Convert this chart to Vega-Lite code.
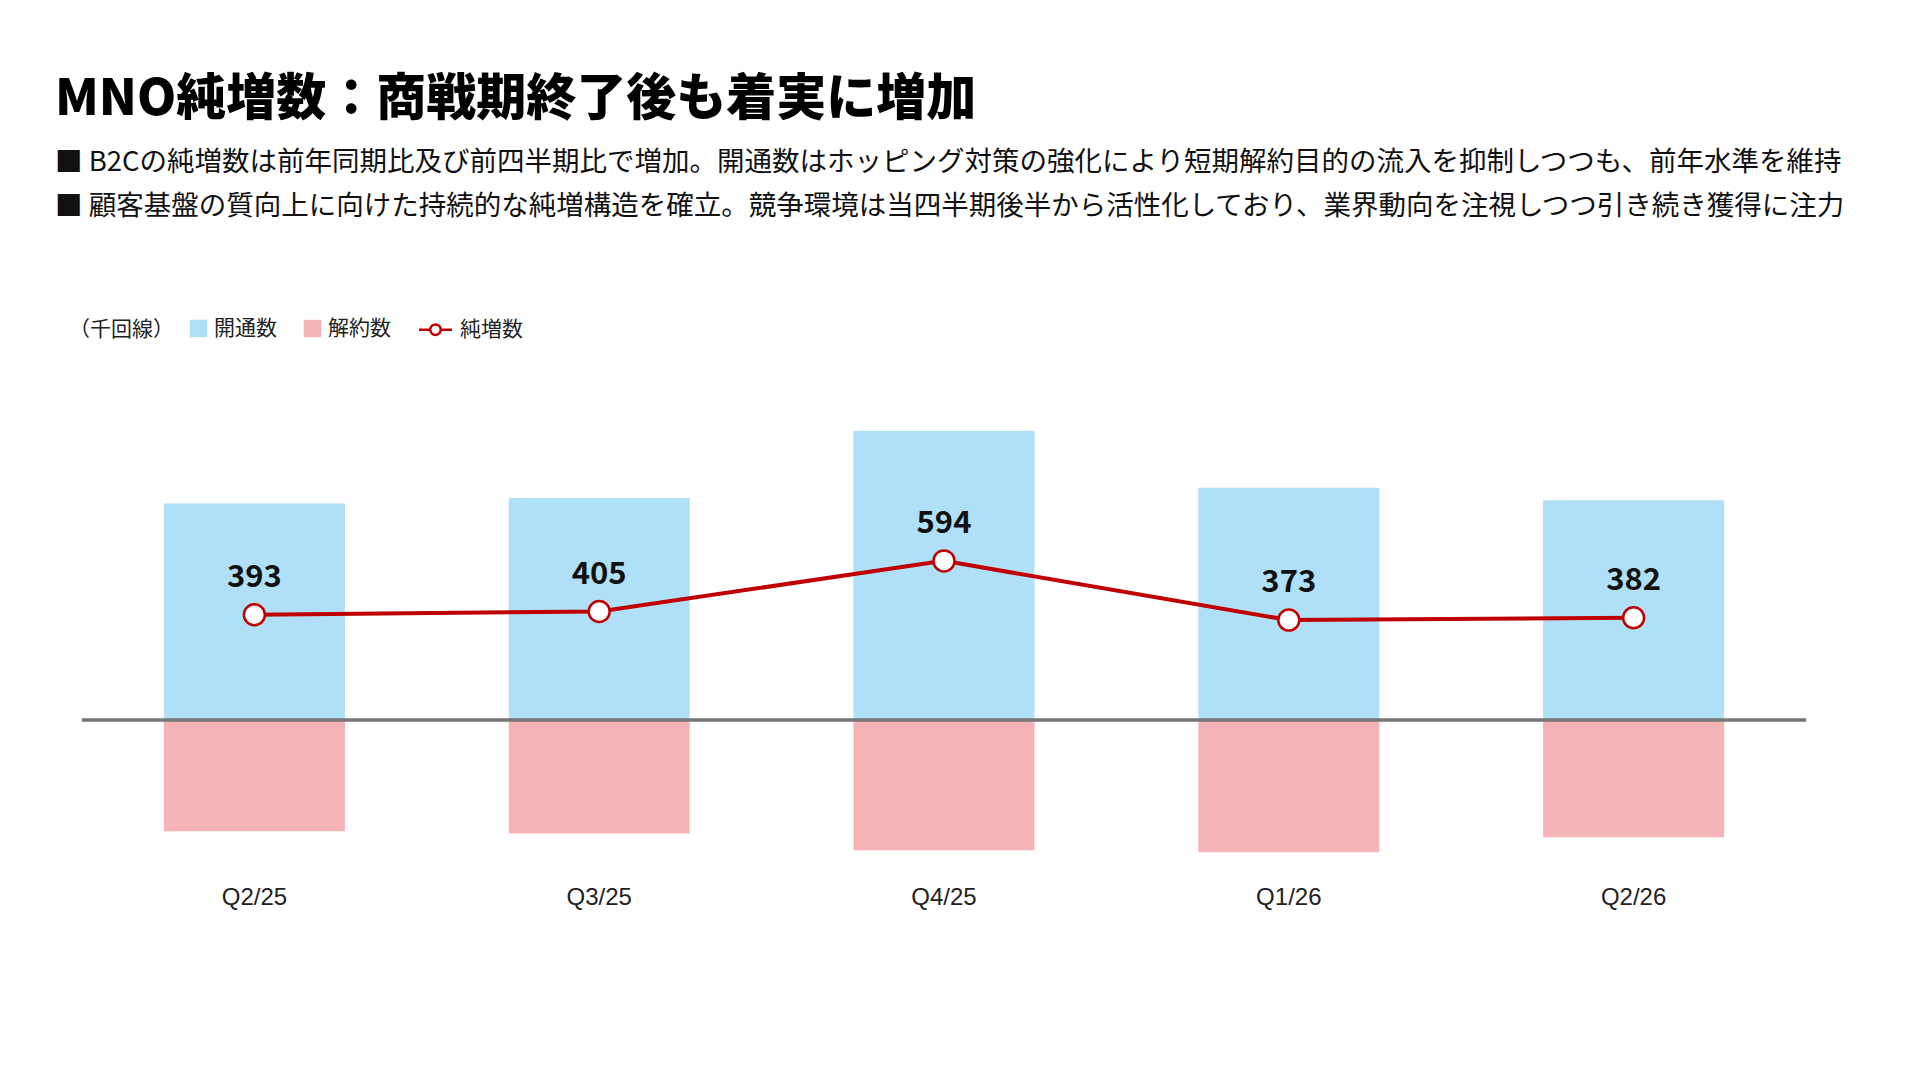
{
  "$schema": "https://vega.github.io/schema/vega-lite/v6.json",
  "autosize": {"type": "none"},
  "padding": {"left": 82, "top": 345, "right": 114, "bottom": 210},
  "width": 1724,
  "height": 525,
  "background": "white",
  "title": {
    "text": "MNO純増数：商戦期終了後も着実に増加",
    "subtitle": [
      "■ B2Cの純増数は前年同期比及び前四半期比で増加。開通数はホッピング対策の強化により短期解約目的の流入を抑制しつつも、前年水準を維持",
      "■ 顧客基盤の質向上に向けた持続的な純増構造を確立。競争環境は当四半期後半から活性化しており、業界動向を注視しつつ引き続き獲得に注力"
    ],
    "anchor": "start",
    "frame": "group",
    "dx": -27,
    "offset": 98,
    "font": "Noto Sans CJK JP",
    "fontSize": 50,
    "fontWeight": 900,
    "color": "#000000",
    "subtitleFont": "Noto Sans CJK JP",
    "subtitleFontSize": 27.5,
    "subtitleFontWeight": "normal",
    "subtitleColor": "#111111",
    "subtitleLineHeight": 44,
    "subtitlePadding": 24
  },
  "data": {
    "values": [
      {"quarter": "Q2/25", "開通数": 808, "解約数": -415, "純増数": 393},
      {"quarter": "Q3/25", "開通数": 829, "解約数": -424, "純増数": 405},
      {"quarter": "Q4/25", "開通数": 1080, "解約数": -486, "純増数": 594},
      {"quarter": "Q1/26", "開通数": 867, "解約数": -494, "純増数": 373},
      {"quarter": "Q2/26", "開通数": 820, "解約数": -438, "純増数": 382}
    ]
  },
  "layer": [
    {
      "transform": [{"fold": ["開通数", "解約数"], "as": ["series", "value"]}],
      "mark": {"type": "bar"},
      "encoding": {
        "x": {
          "field": "quarter",
          "type": "nominal",
          "sort": null,
          "scale": {"paddingInner": 0.475, "paddingOuter": 0.2375},
          "axis": {
            "title": null,
            "domain": false,
            "ticks": false,
            "labelAngle": 0,
            "labelPadding": 15,
            "labelFont": "Liberation Sans",
            "labelFontSize": 24,
            "labelColor": "#222222"
          }
        },
        "y": {
          "field": "value",
          "type": "quantitative",
          "scale": {"domain": [-560, 1400], "nice": false},
          "axis": null
        },
        "color": {
          "field": "series",
          "type": "nominal",
          "scale": {
            "domain": ["開通数", "解約数", "純増数"],
            "range": ["#afe0f7", "#f5b5b7", "#c00000"]
          },
          "legend": {
            "orient": "none",
            "legendX": -13,
            "legendY": -27,
            "direction": "horizontal",
            "title": "（千回線）",
            "titleOrient": "left",
            "titleFont": "Noto Sans CJK JP",
            "titleFontSize": 21,
            "titleFontWeight": "normal",
            "titleColor": "#222222",
            "titlePadding": 14,
            "labelFont": "Noto Sans CJK JP",
            "labelFontSize": 21,
            "labelColor": "#222222",
            "labelOffset": 5,
            "symbolSize": 225,
            "symbolStrokeWidth": 2.5,
            "columnPadding": 23,
            "encode": {
              "symbols": {
                "update": {
                  "shape": {"signal": "datum.value === '純増数' ? 'M-3.4,0L-1.9,0M-0.5,0L1,0M-1.9,0A0.7,0.7 0 1,1 -0.5,0A0.7,0.7 0 1,1 -1.9,0ZM-1.9,0A0.7,0.7 0 1,0 -0.5,0A0.7,0.7 0 1,0 -1.9,0Z' : 'square'"},
                  "strokeWidth": {"value": 2.5}
                }
              }
            }
          }
        }
      }
    },
    {
      "mark": {"type": "rule", "color": "#777777", "strokeWidth": 2.5},
      "encoding": {"y": {"datum": 0}}
    },
    {
      "mark": {"type": "line", "strokeWidth": 4},
      "encoding": {
        "x": {"field": "quarter", "type": "nominal", "sort": null},
        "y": {"field": "純増数", "type": "quantitative"},
        "color": {"datum": "純増数"}
      }
    },
    {
      "mark": {"type": "point", "shape": "circle", "filled": true, "fill": "#ffffff", "stroke": "#c00000", "strokeWidth": 2.5, "size": 440, "opacity": 1},
      "encoding": {
        "x": {"field": "quarter", "type": "nominal", "sort": null},
        "y": {"field": "純増数", "type": "quantitative"}
      }
    },
    {
      "mark": {"type": "text", "dy": -37, "font": "Noto Sans CJK JP", "fontSize": 31, "fontWeight": "bold", "color": "#111111"},
      "encoding": {
        "x": {"field": "quarter", "type": "nominal", "sort": null},
        "y": {"field": "純増数", "type": "quantitative"},
        "text": {"field": "純増数", "type": "quantitative"}
      }
    }
  ],
  "config": {
    "view": {"stroke": null}
  }
}
